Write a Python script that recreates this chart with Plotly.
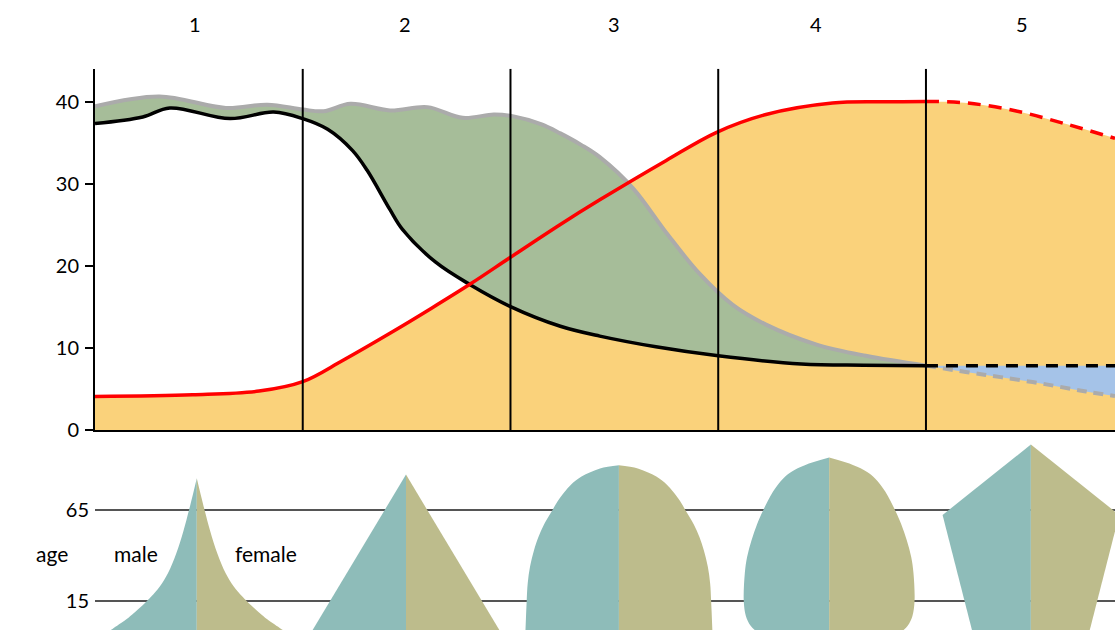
import plotly.graph_objects as go

# --- top panel: rates per 1000 / population, x in "stage" units ---
stage_labels = ["1", "2", "3", "4", "5"]
stage_label_x = [0.48, 1.49, 2.50, 3.47, 4.46]
stage_bounds = [1, 2, 3, 4]

birth_x = [0, 0.31, 0.63, 0.83, 1.0, 1.1, 1.23, 1.42, 1.6, 1.77, 1.92, 2.01,
           2.15, 2.24, 2.34, 2.43, 2.59, 2.75, 2.91, 3.07, 3.23, 3.47, 3.71, 4.0]
birth = [39.5, 40.7, 39.3, 39.7, 39.1, 38.9, 39.8, 39.0, 39.4, 38.1, 38.5, 38.3,
         37.3, 36.2, 34.8, 33.3, 29.5, 24.1, 19.1, 15.3, 12.9, 10.5, 9.1, 7.9]
birth_proj_x = [4.0, 4.2, 4.36, 4.56, 4.77, 4.91]
birth_proj = [7.9, 7.1, 6.5, 5.7, 4.75, 4.2]

death_x = [0, 0.23, 0.36, 0.65, 0.86, 1.0, 1.12, 1.24, 1.31, 1.42, 1.48, 1.64,
           1.81, 2.0, 2.24, 2.43, 2.7, 3.0, 3.4, 3.7, 4.0]
death = [37.4, 38.2, 39.3, 38.0, 38.8, 38.0, 36.7, 34.1, 31.7, 26.9, 24.5, 20.5,
         17.7, 15.1, 12.7, 11.5, 10.2, 9.1, 8.1, 7.95, 7.9]
death_proj_x = [4.0, 4.91]
death_proj = [7.9, 7.9]

pop_x = [0, 0.47, 0.79, 1.0, 1.19, 1.43, 1.62, 1.81, 2.0, 2.24, 2.43, 2.75,
         2.99, 3.23, 3.55, 3.8, 4.0]
pop = [4.15, 4.35, 4.8, 5.95, 8.5, 12.0, 14.9, 17.9, 21.1, 25.1, 28.1, 32.9,
       36.3, 38.5, 39.9, 40.05, 40.1]
pop_proj_x = [4.0, 4.2, 4.44, 4.68, 4.91]
pop_proj = [40.1, 39.9, 38.9, 37.3, 35.6]

# --- bottom panel: age pyramids (age, half width of each side) ---
pyr_center = [0.49, 1.497, 2.522, 3.534, 4.505]
pyr_age = [
    [82.6, 73.5, 64.8, 53.6, 41.0, 30.1, 22.8, 17.3, 14.6, 8.2, 4.6, -0.7, -2],
    [84.6, -2],
    [89.8, 88.0, 83.5, 79.0, 75.3, 69.9, 64.8, 57.2, 50, 42.7, 33.6, 24.6, 14.6, -2],
    [94.0, 89.8, 86.2, 82.5, 75.3, 64.8, 57.2, 48.2, 39.1, 30.1, 14.6, 6.5, 1.0, -2],
    [101.2, 62.3, -2],
]
pyr_half = [
    [0, 0.019, 0.038, 0.064, 0.099, 0.139, 0.178, 0.218, 0.241, 0.301, 0.339,
     0.406, 0.424],
    [0, 0.453],
    [0, 0.091, 0.180, 0.231, 0.260, 0.295, 0.321, 0.360, 0.388, 0.409, 0.428,
     0.439, 0.444, 0.450],
    [0, 0.117, 0.181, 0.221, 0.270, 0.318, 0.347, 0.374, 0.395, 0.406,
     0.411, 0.401, 0.378, 0.351],
    [0, 0.425, 0.282],
]
pyr_shape = ["spline", "linear", "spline", "spline", "linear"]
age_ticks = [15, 65]

ORANGE = "#fad27b"
GREEN = "#a6bd99"
BLUE = "#a5c3e8"
GRAY = "#ababab"
MALE = "#8ebcb9"
FEMALE = "#bdbc8c"
FONT = "Lato"

fig = go.Figure()

def add(x, y, **kw):
    fig.add_trace(go.Scatter(x=x, y=y, mode="lines", hoverinfo="skip",
                             showlegend=False, **kw))

# fills
add(pop_x + pop_proj_x[1:], pop + pop_proj[1:], fill="tozeroy", fillcolor=ORANGE,
    line=dict(width=0, shape="spline"))
add(death_x, death, line=dict(width=0, shape="spline"))
add(birth_x, birth, fill="tonexty", fillcolor=GREEN, line=dict(width=0, shape="spline"))
add(death_proj_x, death_proj, line=dict(width=0))
add(birth_proj_x, birth_proj, fill="tonexty", fillcolor=BLUE,
    line=dict(width=0, shape="spline"))

# lines
add(birth_x, birth, line=dict(color=GRAY, width=4, shape="spline"))
add(birth_proj_x, birth_proj, line=dict(color=GRAY, width=4, shape="spline", dash="10px,7px"))
add(death_x, death, line=dict(color="black", width=3.5, shape="spline"))
add(death_proj_x, death_proj, line=dict(color="black", width=3.5, dash="12px,8px"))
add(pop_x, pop, line=dict(color="#ff0000", width=3.5, shape="spline"))
add(pop_proj_x, pop_proj, line=dict(color="#ff0000", width=3.5, shape="spline", dash="13px,8px"))

# pyramids: fill between centre line and each side's outline
for c, ages, half, shp in zip(pyr_center, pyr_age, pyr_half, pyr_shape):
    for sign, col in [(-1, MALE), (1, FEMALE)]:
        fig.add_trace(go.Scatter(x=[c, c], y=[ages[0], ages[-1]], mode="lines",
                                 line=dict(width=0), hoverinfo="skip",
                                 showlegend=False, xaxis="x2", yaxis="y2"))
        fig.add_trace(go.Scatter(x=[c + sign * h for h in half], y=ages, mode="lines",
                                 line=dict(width=0, shape=shp), fill="tonextx",
                                 fillcolor=col, hoverinfo="skip", showlegend=False,
                                 xaxis="x2", yaxis="y2"))

for b in stage_bounds:
    fig.add_shape(type="line", x0=b, x1=b, y0=0, y1=44.07, xref="x", yref="y",
                  line=dict(color="black", width=2))

for lab, lx in zip(stage_labels, stage_label_x):
    fig.add_annotation(x=lx, y=0.9626, xref="x", yref="paper", text=lab,
                       yanchor="middle", showarrow=False,
                       font=dict(size=20, color="black", family=FONT))

for txt, tx, ref in [("age", -0.060, "paper"), ("male", 0.195, "x"), ("female", 0.821, "x")]:
    fig.add_annotation(x=tx, y=41.1, xref=ref, yref="y2", text=txt, yanchor="middle",
                       showarrow=False, font=dict(size=21, color="black", family=FONT))

fig.update_layout(
    width=1115, height=641,
    margin=dict(l=95, r=0, t=0, b=0),
    plot_bgcolor="white", paper_bgcolor="white",
    font=dict(family=FONT, size=20, color="black"),
    xaxis=dict(range=[0, 4.91], domain=[0, 1], showgrid=False, zeroline=False,
               showline=True, linecolor="black", linewidth=2, showticklabels=False,
               ticks="", anchor="y"),
    yaxis=dict(range=[0, 44.07], domain=[0.3167, 0.8908], tickvals=[0, 10, 20, 30, 40],
               showgrid=False, zeroline=False, showline=True, linecolor="black",
               linewidth=2, ticks="outside", ticklen=8, tickwidth=2,
               tickcolor="black", ticklabelstandoff=2, anchor="x"),
    xaxis2=dict(range=[0, 4.91], domain=[0, 1], matches="x", visible=False, anchor="y2"),
    yaxis2=dict(range=[-1.3, 105.2], domain=[0, 0.3058], tickvals=age_ticks,
                showgrid=True, gridcolor="#555555", gridwidth=1.8, zeroline=False,
                showline=False, ticks="", ticklabelstandoff=5, anchor="x2"),
)

fig.write_html("out.html", config={"displayModeBar": False},
               post_script="document.body.style.margin='0px';"
                           "document.body.style.overflow='hidden';")
